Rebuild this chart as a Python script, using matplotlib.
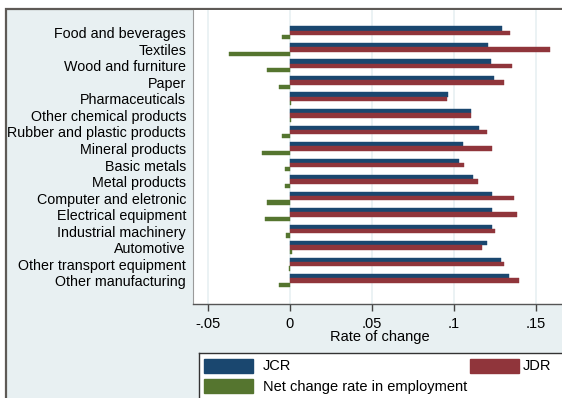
import matplotlib.pyplot as plt
from matplotlib.patches import Rectangle
import numpy as np

plt.rcParams['font.family'] = ['Liberation Sans', 'DejaVu Sans']

# data
sectors = ["Food and beverages", "Textiles", "Wood and furniture", "Paper",
           "Pharmaceuticals", "Other chemical products", "Rubber and plastic products",
           "Mineral products", "Basic metals", "Metal products",
           "Computer and eletronic", "Electrical equipment", "Industrial machinery",
           "Automotive", "Other transport equipment", "Other manufacturing"]
jcr = [0.1298, 0.1212, 0.1227, 0.1249, 0.0964, 0.1105, 0.1157, 0.1058,
       0.1035, 0.1117, 0.1237, 0.1237, 0.1233, 0.1202, 0.1292, 0.1338]
jdr = [0.1342, 0.1588, 0.1357, 0.1306, 0.0960, 0.1103, 0.1206, 0.1237,
       0.1062, 0.1149, 0.1371, 0.1385, 0.1255, 0.1174, 0.1310, 0.1400]
net = [-0.0046, -0.0371, -0.0137, -0.0068, 0.0007, 0.0008, -0.0050, -0.0172,
       -0.0027, -0.0032, -0.0139, -0.0154, -0.0023, 0.0013, -0.0003, -0.0068]
xticks = [-0.05, 0, 0.05, 0.10, 0.15]
xticklabels = ["-.05", "0", ".05", ".1", ".15"]
legend_labels = ["JCR", "JDR", "Net change rate in employment"]

navy, maroon, green = "#1a476f", "#90353b", "#55752f"
bg = "#e8f0f2"

W, H = 562, 398
fig = plt.figure(figsize=(W / 100, H / 100), dpi=100)
fig.patch.set_facecolor("white")

# outer graph region with frame on top/left
frame = Rectangle((6 / W, -0.1), 1.1, (H - 9) / H + 0.1, transform=fig.transFigure,
                  facecolor=bg, edgecolor="#5e5a56", linewidth=1.6, zorder=-5)
fig.add_artist(frame)

# plot region
left, right, top, bottom = 193, 566, 10, 304
ax = fig.add_axes([left / W, 1 - bottom / H, (right - left) / W, (bottom - top) / H])
ax.set_facecolor("white")

n = len(sectors)
y = np.arange(n)
h = 0.262
ax.barh(y - h, jcr, height=h, color=navy, edgecolor=navy, linewidth=0.3)
ax.barh(y, jdr, height=h, color=maroon, edgecolor=maroon, linewidth=0.3)
ax.barh(y + h, net, height=h, color=green, edgecolor=green, linewidth=0.3)

ax.set_ylim(n + 0.42, -1.39)
ax.set_xlim(-0.0591, (right - 289.5) / 1640)
ax.set_xticks(xticks)
ax.set_xticklabels(xticklabels, fontsize=10.5)
ax.set_yticks(y)
ax.set_yticklabels(sectors, fontsize=10.3)
ax.tick_params(axis="y", length=0, pad=5)
ax.tick_params(axis="x", length=5, width=1, color="#444444", pad=4)
ax.xaxis.grid(True, color=bg, linewidth=1.2)
ax.set_axisbelow(True)
ax.set_xlabel("Rate of change", fontsize=10.5, labelpad=0)

for s in ["top", "right"]:
    ax.spines[s].set_visible(False)
ax.spines["left"].set_color("#9a9a9a")
ax.spines["left"].set_linewidth(0.8)
ax.spines["bottom"].set_color("#555555")
ax.spines["bottom"].set_linewidth(1.0)

# legend box drawn by hand
lx, ly = 199, 353
lax = fig.add_axes([lx / W, -0.05, (W - lx) / W + 0.05, (H - ly) / H + 0.05])
lax.set_xlim(lx, W + 0.05 * W)
lax.set_ylim(H + 0.05 * H, ly)
lax.set_facecolor("white")
for s in lax.spines.values():
    s.set_color("#333333")
    s.set_linewidth(1.0)
lax.set_xticks([])
lax.set_yticks([])
swatches = [(204, 359, 263, navy), (470, 359, 523, maroon), (204, 379, 263, green)]
for (sx, sy, tx, c), lab in zip(swatches, legend_labels):
    lax.add_patch(Rectangle((sx, sy), 49, 14, facecolor=c, edgecolor=c))
    lax.text(tx, sy + 7.5, lab, fontsize=10.5, va="center", ha="left")

fig.savefig("out.png", dpi=100)
